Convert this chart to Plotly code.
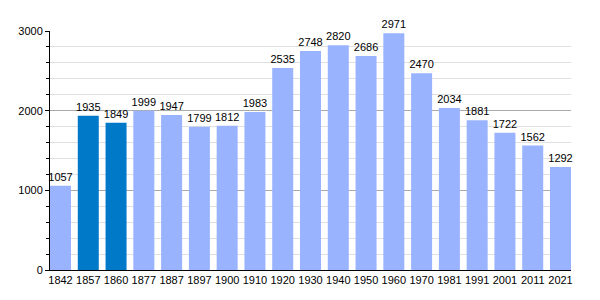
import plotly.graph_objects as go

years = ["1842", "1857", "1860", "1877", "1887", "1897", "1900", "1910", "1920", "1930",
         "1940", "1950", "1960", "1970", "1981", "1991", "2001", "2011", "2021"]
population = [1057, 1935, 1849, 1999, 1947, 1799, 1812, 1983, 2535, 2748,
              2820, 2686, 2971, 2470, 2034, 1881, 1722, 1562, 1292]
highlight = ["1857", "1860"]

colors = ["#0079C8" if y in highlight else "#99B3FF" for y in years]
gap = 0.244

fig = go.Figure()
fig.add_trace(go.Bar(
    x=years, y=population, marker_color=colors, marker_line_width=0,
    text=[str(v) for v in population], textposition="outside",
    constraintext="none",
    textfont=dict(size=11, color="#000000"), cliponaxis=False,
))

fig.update_layout(
    width=600, height=300,
    margin=dict(l=50, r=29, t=31, b=30),
    plot_bgcolor="white", paper_bgcolor="white",
    font=dict(family="Liberation Sans, Arial, sans-serif", size=11, color="#000000"),
    bargap=gap, showlegend=False,
    xaxis=dict(type="category", range=[-0.5 + gap / 2, len(years) - 0.5 - gap / 2],
               showline=True, linecolor="#000000", linewidth=1,
               ticks="", showgrid=False, tickfont=dict(size=11)),
    yaxis=dict(range=[0, 3000], tickvals=[0, 1000, 2000, 3000], showline=True,
               linecolor="#000000", linewidth=1, ticks="outside", ticklen=4,
               tickcolor="#000000", gridcolor="#AAAAAA", gridwidth=1,
               minor=dict(dtick=200, tick0=0, showgrid=True, gridcolor="#E0E0E0",
                          ticks="outside", ticklen=3, tickcolor="#000000"),
               zeroline=False, tickfont=dict(size=11)),
)

fig.write_html("out.html")
